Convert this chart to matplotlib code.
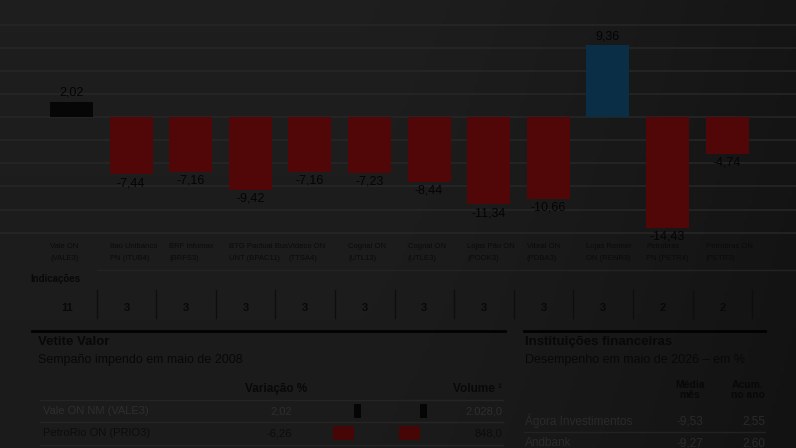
import matplotlib.pyplot as plt
import matplotlib.transforms as mtransforms
from matplotlib.lines import Line2D
import numpy as np

plt.rcParams['font.family'] = ['Liberation Sans', 'DejaVu Sans']

# dados do grafico principal
empresas = ['Vale ON\n(VALE3)', 'Itaú Unibanco\nPN (ITUB4)', 'BRF Infomax\n(BRFS3)',
            'BTG Pactual Bus\nUNT (BPAC11)', 'Videco ON\n(TTSA4)', 'Cognal ON\n(UTL13)',
            'Cognal ON\n(UTLE3)', 'Lojas Pão ON\n(POOK3)', 'Vibral ON\n(PDBA3)',
            'Lojas Renner\nON (RENR3)', 'Petrobras\nPN (PETR4)', 'Petrobras ON\n(PETR3)']
variacao = [2.02, -7.44, -7.16, -9.42, -7.16, -7.23, -8.44, -11.34, -10.66, 9.36, -14.43, -4.74]
indicacoes = [11, 3, 3, 3, 3, 3, 3, 3, 3, 3, 2, 2]
cores = ['#060606'] + ['#510707'] * 8 + ['#0a2e45'] + ['#510707'] * 2

# tabela da esquerda
acoes = ['Vale ON NM (VALE3)', 'PetroRio ON (PRIO3)']
acoes_var = [2.02, -6.26]
acoes_vol = ['2.028,0', '848,0']

# tabela da direita
instituicoes = ['Ágora Investimentos', 'Andbank']
media_mes = [-9.53, -9.27]
acum_ano = [2.55, 2.60]

W, H = 796, 448
TXT = '#080808'


def fx(px):
    return px / W


def fy(py):
    return 1 - py / H


def br(v):
    return f'{v:.2f}'.replace('.', ',')


fig = plt.figure(figsize=(W / 100, H / 100), dpi=100)

# fundo escuro com gradiente
bg = fig.add_axes([0, 0, 1, 1], zorder=-10)
bg.axis('off')
X, Y = np.meshgrid(np.linspace(0, 1, 200), np.linspace(0, 1, 120))
g = 0.118 - 0.035 * np.clip((X - 0.45) / 0.55, 0, 1) ** 1.3 - 0.012 * Y
bg.imshow(g, cmap='gray', vmin=0, vmax=1, extent=[0, 1, 0, 1], aspect='auto')

# grafico de barras
ax = fig.add_axes([0, fy(235), 1, 235 / H])
ax.patch.set_alpha(0)
x = np.arange(len(variacao))
ax.bar(x, variacao, width=0.72, color=cores, zorder=3)
ax.set_xlim(-1.2, 12.156)
ax.set_ylim(-15.3, 15.2)
ax.set_yticks(np.arange(-15, 13, 3))
ax.grid(axis='y', color='#272727', lw=1.1, zorder=0)
ax.tick_params(left=False, bottom=False, labelleft=False, labelbottom=False)
for s in ax.spines.values():
    s.set_visible(False)

for xi, v in zip(x, variacao):
    ax.text(xi, v + (0.35 if v > 0 else -0.35), br(v), ha='center',
            va='bottom' if v > 0 else 'top', fontsize=9, color='#040404', zorder=4)

trans = mtransforms.blended_transform_factory(ax.transData, fig.transFigure)
for xi, lab in zip(x, empresas):
    ax.text(xi - 0.36, fy(252), lab, ha='left', va='center', fontsize=5.5,
            linespacing=2.0, transform=trans, color='#0a0a0a')

# indicacoes
fig.text(fx(30), fy(279), 'Indicações', fontsize=7, fontweight='bold', va='center', color=TXT)
fig.add_artist(Line2D([fx(97), 1], [fy(270)] * 2, color='#232323', lw=1))
for xi, n in zip(x, indicacoes):
    ax.text(xi - 0.08, fy(308), str(n), transform=trans, ha='center', va='center',
            fontsize=8, fontweight='bold', color=TXT)
    ax.plot([xi + 0.42] * 2, [fy(290), fy(318)], transform=trans, clip_on=False,
            color='#0e0e0e', lw=1)

# painel esquerdo
fig.add_artist(Line2D([fx(32), fx(505)], [fy(331)] * 2, color='#020202', lw=2))
fig.text(fx(38), fy(342), 'Vetite Valor', fontsize=9.5, fontweight='bold', va='center', color=TXT)
fig.text(fx(38), fy(360), 'Sempaño impendo em maio de 2008', fontsize=9, va='center', color=TXT)
fig.text(fx(307), fy(389), 'Variação %', fontsize=8.5, fontweight='bold', ha='right', va='center', color=TXT)
fig.text(fx(502), fy(389), 'Volume ¹', fontsize=8.5, fontweight='bold', ha='right', va='center', color=TXT)
for py in [400, 422, 445]:
    fig.add_artist(Line2D([fx(40), fx(503)], [fy(py)] * 2, color='#252525', lw=1))
cor_linha = ['#2e2e2e', '#0c0c0c']
for i, (nome, v, vol) in enumerate(zip(acoes, acoes_var, acoes_vol)):
    py = 411 + 22 * i
    fig.text(fx(43), fy(py), nome, fontsize=8, va='center', color=cor_linha[i])
    fig.text(fx(292), fy(py), br(v), fontsize=8, ha='right', va='center', color=cor_linha[i])
    fig.text(fx(502), fy(py), vol, fontsize=8, ha='right', va='center', color=cor_linha[i])

cor_mini = ['#050505' if v > 0 else '#470606' for v in acoes_var]
for x0, x1, zero in [(320, 390, 354), (385, 440, 420)]:
    m = fig.add_axes([fx(x0), fy(444), (x1 - x0) / W, 44 / H])
    m.axis('off')
    m.barh(range(len(acoes_var)), acoes_var, height=0.68, color=cor_mini)
    m.set_xlim(-(zero - x0) / 3.3, (x1 - zero) / 3.3)
    m.set_ylim(1.5, -0.5)

# painel direito
fig.add_artist(Line2D([fx(524), fx(765)], [fy(331)] * 2, color='#020202', lw=2))
fig.text(fx(525), fy(342), 'Instituições financeiras', fontsize=9.5, fontweight='bold', va='center', color=TXT)
fig.text(fx(525), fy(360), 'Desempenho em maio de 2026 – em %', fontsize=9, va='center', color=TXT)
fig.text(fx(690), fy(390), 'Média\nmês', fontsize=7.5, fontweight='bold', ha='center', va='center',
         linespacing=1.1, color=TXT)
fig.text(fx(748), fy(390), 'Acum.\nno ano', fontsize=7.5, fontweight='bold', ha='center', va='center',
         linespacing=1.1, color=TXT)
fig.add_artist(Line2D([fx(524), fx(765)], [fy(432)] * 2, color='#222222', lw=1))
for i, (nome, m1, m2) in enumerate(zip(instituicoes, media_mes, acum_ano)):
    py = 421 + 22 * i
    fig.text(fx(525), fy(py), nome, fontsize=8.5, va='center', color='#2a2a2a')
    fig.text(fx(703), fy(py), br(m1), fontsize=8.5, ha='right', va='center', color='#2a2a2a')
    fig.text(fx(765), fy(py), br(m2), fontsize=8.5, ha='right', va='center', color='#2a2a2a')

plt.savefig('out.png', dpi=100)
plt.close()
